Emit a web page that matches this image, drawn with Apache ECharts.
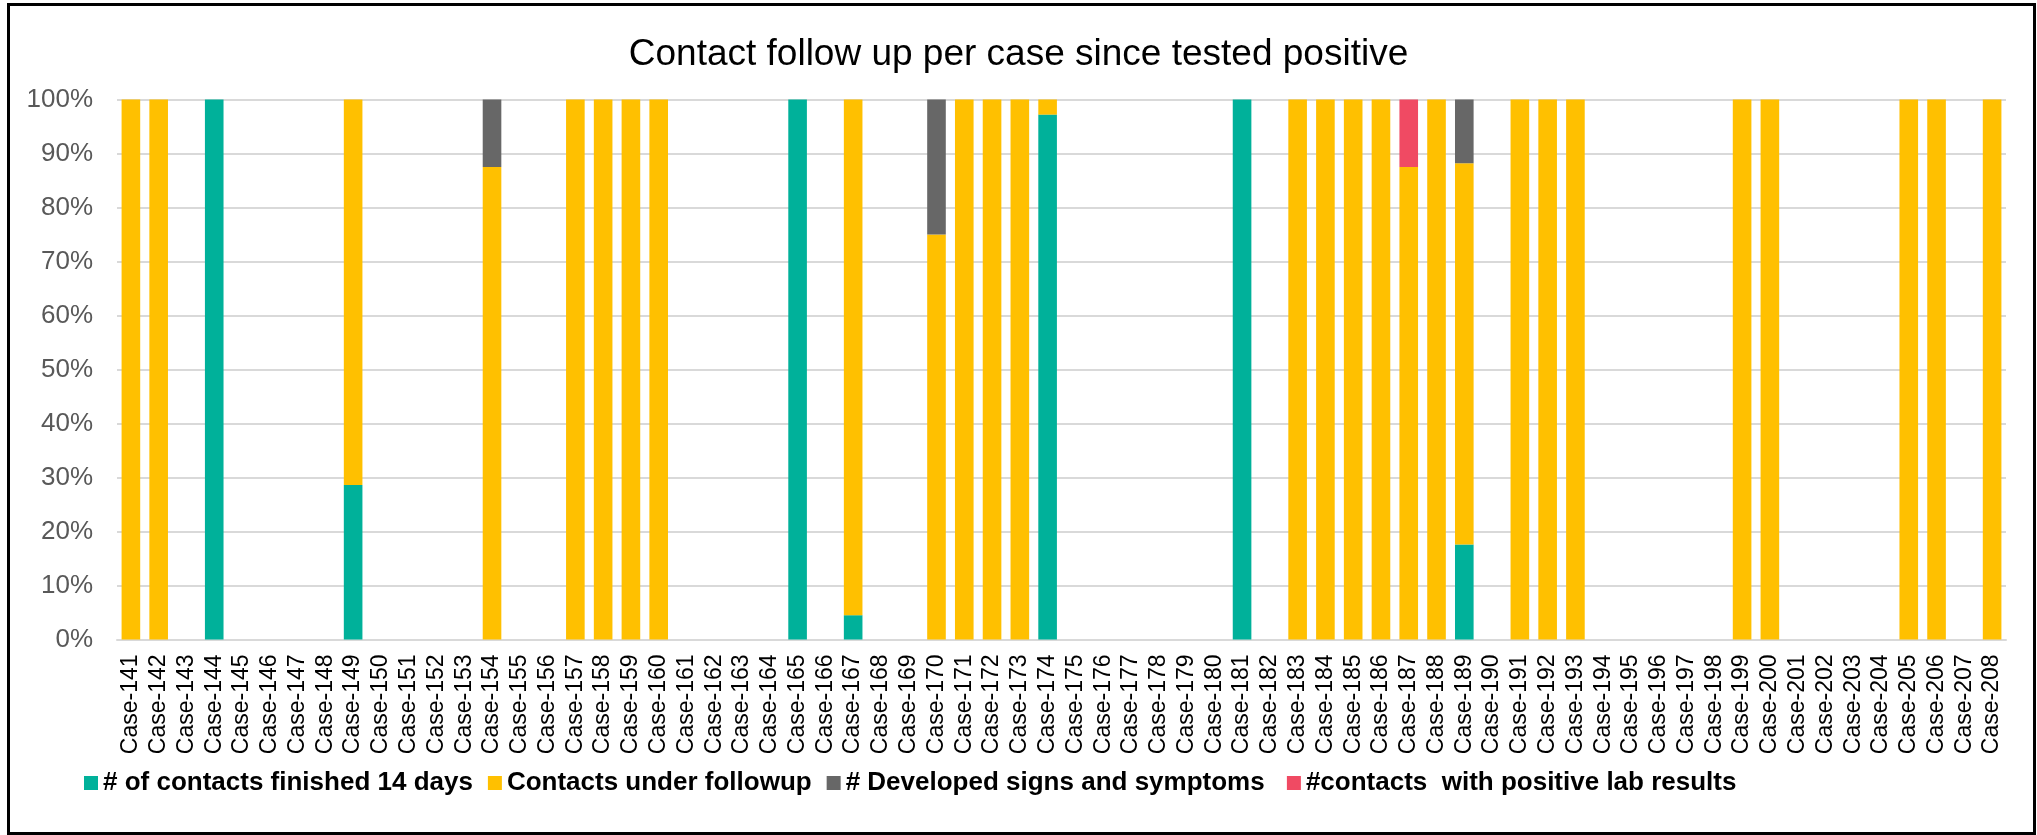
<!DOCTYPE html>
<html>
<head>
<meta charset="utf-8">
<title>Contact follow up per case since tested positive</title>
<script src="https://cdn.jsdelivr.net/npm/echarts@6/dist/echarts.min.js"></script>
<style>
  html, body { margin: 0; padding: 0; background: #fff; }
  #chart { width: 2037px; height: 835px; }
</style>
</head>
<body>
<div id="chart"></div>
<script>
// categories (x axis)
const cases = [
  'Case-141','Case-142','Case-143','Case-144','Case-145','Case-146','Case-147','Case-148','Case-149','Case-150',
  'Case-151','Case-152','Case-153','Case-154','Case-155','Case-156','Case-157','Case-158','Case-159','Case-160',
  'Case-161','Case-162','Case-163','Case-164','Case-165','Case-166','Case-167','Case-168','Case-169','Case-170',
  'Case-171','Case-172','Case-173','Case-174','Case-175','Case-176','Case-177','Case-178','Case-179','Case-180',
  'Case-181','Case-182','Case-183','Case-184','Case-185','Case-186','Case-187','Case-188','Case-189','Case-190',
  'Case-191','Case-192','Case-193','Case-194','Case-195','Case-196','Case-197','Case-198','Case-199','Case-200',
  'Case-201','Case-202','Case-203','Case-204','Case-205','Case-206','Case-207','Case-208'
];

// share of contacts per case, in percent
const finished14 = [
  0, 0, 0, 100, 0, 0, 0, 0, 28.6, 0,
  0, 0, 0, 0, 0, 0, 0, 0, 0, 0,
  0, 0, 0, 0, 100, 0, 4.5, 0, 0, 0,
  0, 0, 0, 97.2, 0, 0, 0, 0, 0, 0,
  100, 0, 0, 0, 0, 0, 0, 0, 17.6, 0,
  0, 0, 0, 0, 0, 0, 0, 0, 0, 0,
  0, 0, 0, 0, 0, 0, 0, 0
];
const underFollowup = [
  100, 100, 0, 0, 0, 0, 0, 0, 71.4, 0,
  0, 0, 0, 87.5, 0, 0, 100, 100, 100, 100,
  0, 0, 0, 0, 0, 0, 95.5, 0, 0, 75,
  100, 100, 100, 2.8, 0, 0, 0, 0, 0, 0,
  0, 0, 100, 100, 100, 100, 87.5, 100, 70.6, 0,
  100, 100, 100, 0, 0, 0, 0, 0, 100, 100,
  0, 0, 0, 0, 100, 100, 0, 100
];
const symptoms = [
  0, 0, 0, 0, 0, 0, 0, 0, 0, 0,
  0, 0, 0, 12.5, 0, 0, 0, 0, 0, 0,
  0, 0, 0, 0, 0, 0, 0, 0, 0, 25,
  0, 0, 0, 0, 0, 0, 0, 0, 0, 0,
  0, 0, 0, 0, 0, 0, 0, 0, 11.8, 0,
  0, 0, 0, 0, 0, 0, 0, 0, 0, 0,
  0, 0, 0, 0, 0, 0, 0, 0
];
const positiveLab = [
  0, 0, 0, 0, 0, 0, 0, 0, 0, 0,
  0, 0, 0, 0, 0, 0, 0, 0, 0, 0,
  0, 0, 0, 0, 0, 0, 0, 0, 0, 0,
  0, 0, 0, 0, 0, 0, 0, 0, 0, 0,
  0, 0, 0, 0, 0, 0, 12.5, 0, 0, 0,
  0, 0, 0, 0, 0, 0, 0, 0, 0, 0,
  0, 0, 0, 0, 0, 0, 0, 0
];

const seriesNames = [
  '# of contacts finished 14 days',
  'Contacts under followup',
  '# Developed signs and symptoms ',
  '#contacts  with positive lab results'
];
const colors = ['#00B19A', '#FFC000', '#676767', '#F04A63'];
const font = "'Liberation Sans', Arial, sans-serif";

const myChart = echarts.init(document.getElementById('chart'));

function bar(name, data) {
  return {
    name: name,
    type: 'bar',
    stack: 'total',
    barCategoryGap: '33%',
    data: data
  };
}

const option = {
  color: colors,
  animation: false,
  textStyle: { fontFamily: font },
  title: {
    text: 'Contact follow up per case since tested positive',
    left: 'center',
    top: 31,
    textStyle: { fontFamily: font, fontSize: 37, fontWeight: 'normal', color: '#000' }
  },
  legend: {
    data: seriesNames,
    left: 79,
    top: 765,
    itemWidth: 14,
    itemHeight: 14,
    itemGap: 15,
    icon: 'rect',
    textStyle: { fontFamily: font, fontSize: 26, fontWeight: 'bold', color: '#000' }
  },
  grid: {
    left: 117,
    right: 31,
    top: 99.5,
    bottom: 195.5
  },
  xAxis: {
    type: 'category',
    data: cases,
    axisTick: { show: false },
    axisLine: { lineStyle: { color: '#D9D9D9', width: 2 } },
    axisLabel: {
      interval: 0,
      rotate: 90,
      margin: 15,
      fontFamily: font,
      fontSize: 23,
      color: '#000'
    }
  },
  yAxis: {
    type: 'value',
    min: 0,
    max: 100,
    interval: 10,
    axisLine: { show: false },
    axisTick: { show: false },
    splitLine: { lineStyle: { color: '#D9D9D9', width: 2 } },
    axisLabel: {
      formatter: '{value}%',
      margin: 24,
      fontFamily: font,
      fontSize: 26,
      color: '#595959'
    }
  },
  graphic: [{
    type: 'rect',
    silent: true,
    shape: { x: 8.5, y: 4.5, width: 2026, height: 829 },
    style: { fill: 'none', stroke: '#000', lineWidth: 3 }
  }],
  series: [
    bar(seriesNames[0], finished14),
    bar(seriesNames[1], underFollowup),
    bar(seriesNames[2], symptoms),
    bar(seriesNames[3], positiveLab)
  ]
};

myChart.setOption(option);
</script>
</body>
</html>
